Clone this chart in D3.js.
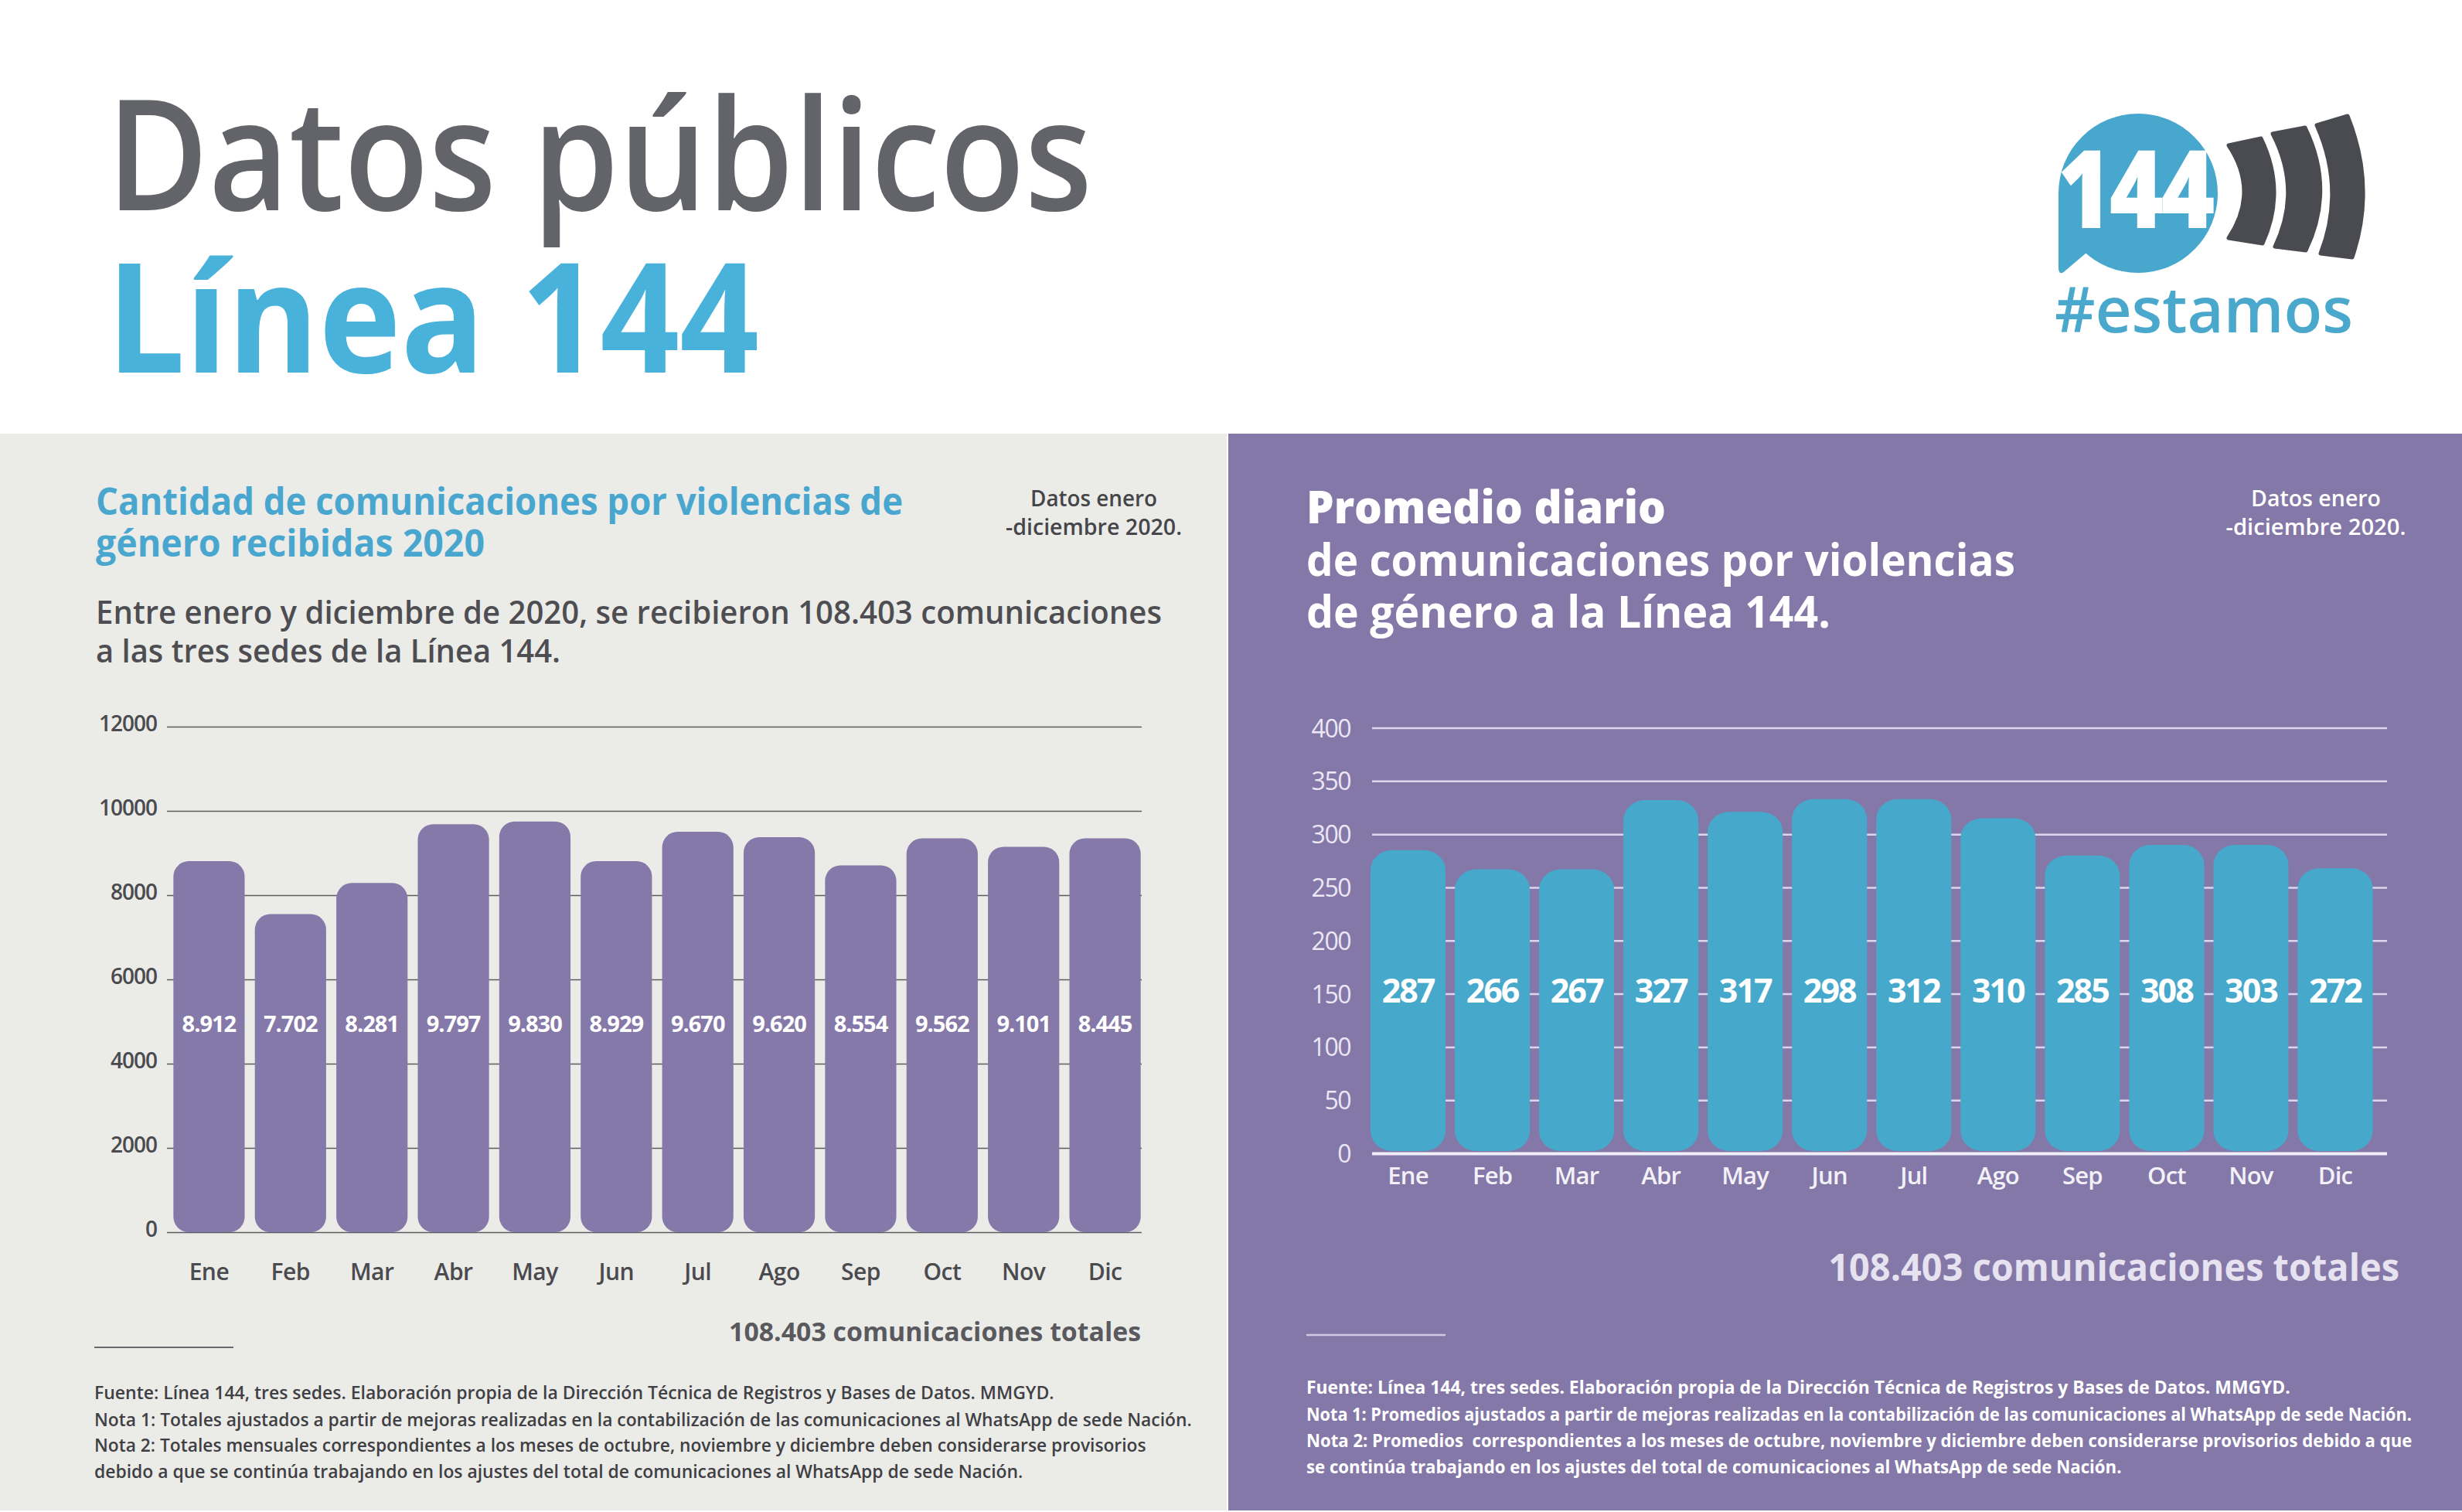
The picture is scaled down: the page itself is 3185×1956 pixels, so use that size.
<!DOCTYPE html>
<html>
<head>
<meta charset="utf-8">
<script src="https://cdn.jsdelivr.net/npm/d3@7"></script>
<style>
  html, body { margin: 0; padding: 0; background: #ffffff; }
  svg { display: block; }
  text { font-family: "Open Sans", "Noto Sans", sans-serif; }
</style>
</head>
<body>
<script>
// ---------------- DATA ----------------
const months = ["Ene", "Feb", "Mar", "Abr", "May", "Jun", "Jul", "Ago", "Sep", "Oct", "Nov", "Dic"];
// monthly communications (bar heights as drawn in the reference)
const totalsBar = [8807, 7549, 8288, 9685, 9749, 8807, 9503, 9374, 8708, 9347, 9147, 9347];
// labels printed on the bars
const totalsLabel = ["8.912", "7.702", "8.281", "9.797", "9.830", "8.929", "9.670", "9.620", "8.554", "9.562", "9.101", "8.445"];
// daily average (bar heights as drawn in the reference)
const dailyBar = [285, 267, 267, 332, 321, 333, 333, 315, 280, 290, 290, 268];
const dailyLabel = ["287", "266", "267", "327", "317", "298", "312", "310", "285", "308", "303", "272"];
const ticksLeft = [0, 2000, 4000, 6000, 8000, 10000, 12000];
const ticksRight = [0, 50, 100, 150, 200, 250, 300, 350, 400];

const titleLines = ["Datos públicos", "Línea 144"];
const leftTitle = ["Cantidad de comunicaciones por violencias de", "género recibidas 2020"];
const leftDesc = ["Entre enero y diciembre de 2020, se recibieron 108.403 comunicaciones", "a las tres sedes de la Línea 144."];
const rightTitle = ["Promedio diario", "de comunicaciones por violencias", "de género a la Línea 144."];
const period = ["Datos enero", "-diciembre 2020."];
const totalText = "108.403 comunicaciones totales";
const leftNotes = [
  "Fuente: Línea 144, tres sedes. Elaboración propia de la Dirección Técnica de Registros y Bases de Datos. MMGYD.",
  "Nota 1: Totales ajustados a partir de mejoras realizadas en la contabilización de las comunicaciones al WhatsApp de sede Nación.",
  "Nota 2: Totales mensuales correspondientes a los meses de octubre, noviembre y diciembre deben considerarse provisorios",
  "debido a que se continúa trabajando en los ajustes del total de comunicaciones al WhatsApp de sede Nación."
];
const rightNotes = [
  "Fuente: Línea 144, tres sedes. Elaboración propia de la Dirección Técnica de Registros y Bases de Datos. MMGYD.",
  "Nota 1: Promedios ajustados a partir de mejoras realizadas en la contabilización de las comunicaciones al WhatsApp de sede Nación.",
  "Nota 2: Promedios  correspondientes a los meses de octubre, noviembre y diciembre deben considerarse provisorios debido a que",
  "se continúa trabajando en los ajustes del total de comunicaciones al WhatsApp de sede Nación."
];

// ---------------- LAYOUT ----------------
const W = 3185, H = 1956;
const svg = d3.select("body").append("svg").attr("width", W).attr("height", H);

svg.append("rect").attr("width", W).attr("height", H).attr("fill", "#ffffff");
svg.append("rect").attr("x", 0).attr("y", 561).attr("width", 1587).attr("height", 1393).attr("fill", "#ebece8");
svg.append("rect").attr("x", 1589).attr("y", 561).attr("width", 1596).attr("height", 1393).attr("fill", "#8478a8");

// single line text, horizontally scaled by transform to a target width
function fitText(g, s, x, y, o) {
  const t = g.append("text").text(s)
    .attr("font-size", o.size).attr("font-weight", o.weight || 600)
    .attr("fill", o.fill).attr("text-anchor", o.anchor || "start")
    .attr("xml:space", "preserve");
  if (o.ls != null) t.attr("letter-spacing", o.ls);
  let sx = 1;
  if (o.len) {
    const w = t.node().getComputedTextLength();
    if (w > 0) sx = o.len / w;
  }
  t.attr("transform", `translate(${x},${y}) scale(${sx},1)`);
  return t;
}

// multi-line block as one text element with tspans (each with target width)
function block(g, lines, x, y0, lh, o) {
  const t = g.append("text").attr("fill", o.fill).attr("font-size", o.size)
    .attr("font-weight", o.weight || 600).attr("text-anchor", o.anchor || "start");
  lines.forEach((s, i) => {
    const ts = t.append("tspan").attr("x", x).attr("y", y0 + i * lh).text(s);
    if (o.weights) ts.attr("font-weight", o.weights[i]);
    if (o.lens) ts.attr("textLength", o.lens[i]).attr("lengthAdjust", "spacingAndGlyphs");
  });
  return t;
}

// ---------------- HEADER ----------------
const head = svg.append("text").attr("font-weight", 600);
head.append("tspan").attr("x", 138).attr("y", 272).attr("font-size", 200).attr("fill", "#636469")
  .attr("textLength", 1275).attr("lengthAdjust", "spacingAndGlyphs").text(titleLines[0]);
head.append("tspan").attr("x", 138).attr("y", 482).attr("font-size", 198).attr("font-weight", 700).attr("fill", "#48b2da")
  .attr("textLength", 844).attr("lengthAdjust", "spacingAndGlyphs").text(titleLines[1]);

// logo
const logo = svg.append("g");
logo.append("circle").attr("cx", 2766).attr("cy", 250).attr("r", 103).attr("fill", "#47a7cc");
logo.append("path").attr("d", "M2663,250 L2663,346 Q2663,358 2672,350 L2705,322 L2720,300 Z").attr("fill", "#47a7cc");
fitText(logo, "144", 2662, 295, { size: 140, weight: 800, fill: "#ffffff", len: 200, ls: -4 });
const arcs = [
  "M2883,188 Q2923,248 2883,308 L2927,315 Q2958,247 2925,179 Z",
  "M2940,173 Q2978,246 2943,319 L2983,324 Q3021,245 2982,165 Z",
  "M2997,162 Q3034,245 3002,328 L3043,333 Q3074,242 3037,150 Z"
];
logo.selectAll("path.arc").data(arcs).join("path").attr("class", "arc").attr("d", d => d)
  .attr("fill", "#4a4b50").attr("stroke", "#4a4b50").attr("stroke-width", 5).attr("stroke-linejoin", "round");
fitText(logo, "#estamos", 2658, 430, { size: 82, weight: 600, fill: "#4aa8cc", len: 386 });

// ---------------- LEFT PANEL ----------------
const L = svg.append("g");
block(L, leftTitle, 124, 666, 54, { size: 48, weight: 700, fill: "#49a7cf", lens: [1044, 503] });
block(L, period, 1415, 655, 37, { size: 29, weight: 600, fill: "#45454a", anchor: "middle", lens: [164, 228] });
block(L, leftDesc, 124, 807, 50, { size: 42, weight: 600, fill: "#4d4d52", lens: [1379, 601] });

const yL = d3.scaleLinear().domain([0, 12000]).range([1594, 940]);
const xL = d3.scaleBand().domain(months).range([218, 1482]).paddingInner(0.125).paddingOuter(0.06);

const axL = L.append("g").attr("transform", "translate(216,0)")
  .call(d3.axisLeft(yL).tickValues(ticksLeft).tickSize(-1261).tickPadding(13).tickFormat(d3.format("d")));
axL.select(".domain").remove();
axL.selectAll(".tick line").attr("stroke", "#5c5c60").attr("stroke-width", 1.6);
axL.selectAll(".tick text").attr("font-family", "Open Sans").attr("font-size", 28).attr("font-weight", 600)
  .attr("fill", "#4a4a4f").attr("dy", "0.2em").attr("letter-spacing", -1);

L.selectAll("rect.bar").data(totalsBar).join("rect").attr("class", "bar")
  .attr("x", (d, i) => xL(months[i])).attr("width", xL.bandwidth())
  .attr("y", d => yL(d)).attr("height", d => yL(0) - yL(d))
  .attr("rx", 20).attr("ry", 20).attr("fill", "#8579a9");

L.selectAll("text.val").data(totalsLabel).join("text").attr("class", "val")
  .attr("x", (d, i) => xL(months[i]) + xL.bandwidth() / 2).attr("y", yL(4750))
  .attr("text-anchor", "middle").attr("font-size", 29).attr("font-weight", 700)
  .attr("letter-spacing", -1).attr("fill", "#ffffff").text(d => d);

L.selectAll("text.mon").data(months).join("text").attr("class", "mon")
  .attr("x", d => xL(d) + xL.bandwidth() / 2).attr("y", 1656)
  .attr("text-anchor", "middle").attr("font-size", 30).attr("font-weight", 600)
  .attr("letter-spacing", -0.5).attr("fill", "#4a4a4f").text(d => d);

fitText(L, totalText, 1476, 1735, { size: 34, weight: 700, fill: "#59595e", anchor: "end", len: 533 });
L.append("line").attr("x1", 122).attr("x2", 302).attr("y1", 1743).attr("y2", 1743).attr("stroke", "#6a6a6e").attr("stroke-width", 2);
const lLens = [1242, 1420, 1361, 1202];
const lYs = [1810, 1845, 1878, 1912];
leftNotes.forEach((s, i) => fitText(L, s, 122, lYs[i], { size: 23, weight: 600, fill: "#3f3f44", len: lLens[i] }));

// ---------------- RIGHT PANEL ----------------
const R = svg.append("g");
block(R, rightTitle, 1690, 677, 67.5, { size: 58, weight: 700, weights: [800, 700, 700], fill: "#ffffff", lens: [465, 917, 678] });
block(R, period, 2996, 655, 37, { size: 29, weight: 600, fill: "#ffffff", anchor: "middle", lens: [168, 233] });

const yR = d3.scaleLinear().domain([0, 400]).range([1492, 941.5]);
const xR = d3.scaleBand().domain(months).range([1773, 3069.5]).paddingInner(0.11).paddingOuter(0);

const axR = R.append("g").attr("transform", "translate(1775,0)")
  .call(d3.axisLeft(yR).tickValues(ticksRight).tickSize(-1313).tickPadding(28).tickFormat(d3.format("d")));
axR.select(".domain").remove();
axR.selectAll(".tick line").attr("stroke", "#ddd6ee").attr("stroke-width", 2.5);
axR.selectAll(".tick").filter(d => d === 0).select("line").attr("stroke", "#f1eff7").attr("stroke-width", 4);
axR.selectAll(".tick text").attr("font-family", "Open Sans").attr("font-size", 32).attr("font-weight", 500)
  .attr("fill", "#ebe7f4").attr("dy", "0.36em").attr("letter-spacing", -1.5);

R.selectAll("rect.bar").data(dailyBar).join("rect").attr("class", "bar")
  .attr("x", (d, i) => xR(months[i])).attr("width", xR.bandwidth())
  .attr("y", d => yR(d)).attr("height", d => yR(0) - 3 - yR(d))
  .attr("rx", 28).attr("ry", 26).attr("fill", "#46a8cb");

R.selectAll("text.val").data(dailyLabel).join("text").attr("class", "val")
  .attr("x", (d, i) => xR(months[i]) + xR.bandwidth() / 2).attr("y", 1297)
  .attr("text-anchor", "middle").attr("font-size", 43).attr("font-weight", 700)
  .attr("letter-spacing", -2).attr("fill", "#ffffff").text(d => d);

R.selectAll("text.mon").data(months).join("text").attr("class", "mon")
  .attr("x", d => xR(d) + xR.bandwidth() / 2).attr("y", 1532)
  .attr("text-anchor", "middle").attr("font-size", 31).attr("font-weight", 600)
  .attr("letter-spacing", -0.8).attr("fill", "#f3f1f8").text(d => d);

fitText(R, totalText, 3104, 1657, { size: 48, weight: 700, fill: "#e6e2f0", anchor: "end", len: 739 });
R.append("line").attr("x1", 1690).attr("x2", 1870).attr("y1", 1727).attr("y2", 1727).attr("stroke", "#d0c8e4").attr("stroke-width", 2.5);
const rLens = [1273, 1431, 1431, 1055];
const rYs = [1803, 1838, 1872, 1906];
rightNotes.forEach((s, i) => fitText(R, s, 1690, rYs[i], { size: 23, weight: 700, fill: "#ffffff", len: rLens[i] }));
</script>
</body>
</html>
